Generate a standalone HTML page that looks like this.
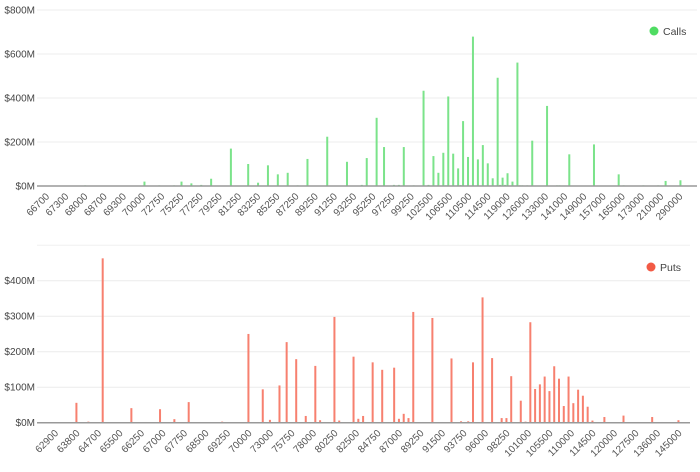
<!DOCTYPE html>
<html><head><meta charset="utf-8"><style>
html,body{margin:0;padding:0;background:#fff;}
svg{display:block;font-family:"Liberation Sans",sans-serif;}
</style></head><body>
<svg id="chart" width="700" height="472" viewBox="0 0 700 472"></svg>
<script>
// ---- Calls data ----
const callLabels = ["66700","67300","68000","68700","69300","70000","72750","75250","77250","79250","81250","83250","85250","87250","89250","91250","93250","95250","97250","99250","102500","106500","110500","114500","119000","126000","133000","141000","149000","157000","165000","173000","210000","290000"];
const callSlots = [19,43,49,55,58,62,66,70,78,85,89,93,97,101,105,109,117,125,131,133,137,140,144,146,148,152,156,158,160,162,164,165,166,168,170,171,172,174,176,178,180,182,184,186,187,188,189,190,192,194,195,196,198,200,206,210,211,215,225,235,237,245,251,254,260];
const callValues = [3,20,3,3,20,12,5,33,170,100,15,94,53,60,3,123,224,110,5,127,310,177,5,5,177,3,433,5,136,60,151,3,407,147,80,4,295,132,679,121,186,103,35,492,5,38,5,58,20,561,3,3,3,206,364,3,3,144,189,53,3,3,3,23,26];
const callTicks = [0,200,400,600,800];
// ---- Puts data ----
const putLabels = ["62900","63800","64700","65500","66250","67000","67750","68500","69250","70000","73000","75750","78000","80250","82500","84750","87000","89250","91500","93750","96000","98250","101000","105500","110000","114500","120000","127500","136000","145000"];
const putSlots = [16,21,27,39,45,51,57,63,77,88,92,94,97,101,104,108,112,116,118,120,124,126,132,134,136,140,144,149,151,153,155,157,161,165,169,173,177,180,182,186,190,194,196,198,202,204,206,208,210,212,214,216,218,220,222,224,226,228,230,232,237,245,251,257,261,268];
const putValues = [56,3,463,41,2,38,10,58,3,250,2,94,8,105,227,179,19,160,7,2,298,6,186,11,19,170,149,155,11,25,13,312,2,295,2,181,4,4,170,353,182,13,13,131,62,3,283,95,108,130,89,159,124,47,130,55,93,76,45,6,16,20,2,16,2,7];
const putTicks = [0,100,200,300,400];

const NS = "http://www.w3.org/2000/svg";
const svg = document.getElementById("chart");
function mk(tag, attrs, parent){const e=document.createElementNS(NS,tag);for(const k in attrs)e.setAttribute(k,attrs[k]);(parent||svg).appendChild(e);return e;}

function drawPanel(cfg){
  const g = mk("g",{});
  
  
  const xs = s => cfg.x0 + (s + 0.5) * cfg.w;
  const ys = v => cfg.base - v * cfg.pxPer;
  cfg.ticks.forEach(t=>{
    const y = ys(t);
    if(t>0){
      const gl = mk("line",{x1:37,x2:cfg.gridEnd,y1:y,y2:y,stroke:"#ececec","stroke-width":1},g);
      
      
    }
    const tx = mk("text",{x:35,y:y+3.5,"text-anchor":"end","font-size":"10",fill:"#444"},g);
    tx.textContent = "$"+t+"M";
    
    
  });
  if(cfg.extraGrid){
    const y = ys(cfg.extraGrid);
    const gl = mk("line",{x1:37,x2:cfg.gridEnd,y1:y,y2:y,stroke:"#f0f0f0","stroke-width":1},g);
    
    
  }
  cfg.slots.forEach((s,i)=>{
    const v = cfg.values[i];
    const h = v*cfg.pxPer;
    const r = mk("rect",{x:xs(s)-1,y:cfg.base-h,width:2,height:h,fill:cfg.color},g);
    
    
  });
  const bl = mk("line",{x1:37,x2:cfg.gridEnd,y1:cfg.base,y2:cfg.base,stroke:"#999","stroke-width":1.5},g);
  
  
  cfg.labels.forEach((l,i)=>{
    const x = xs(cfg.s0 + i*cfg.step) + 4;
    const y = cfg.base + 11;
    const t = mk("text",{x:x,y:y,"text-anchor":"end","font-size":"10",fill:"#555",transform:`rotate(-45 ${x} ${y})`},g);
    t.textContent = l;
    
    
  });
  const lg = mk("g",{},g);
  
  
  mk("circle",{cx:cfg.legX,cy:cfg.legY,r:4.5,fill:cfg.legColor},lg);
  const lt = mk("text",{x:cfg.legX+9,y:cfg.legY+4,"font-size":"10.5",fill:"#444"},lg);
  lt.textContent = cfg.legend;
}

drawPanel({name:"calls-panel",x0:37,w:2.47,s0:3.14,step:7.77,base:186,pxPer:44/200,gridEnd:697,
  ticks:callTicks,slots:callSlots,values:callValues,labels:callLabels,
  color:"#7be38a",legColor:"#4fdc62",legend:"Calls",legX:654,legY:31});
drawPanel({name:"puts-panel",x0:37,w:2.389,s0:7,step:9,base:422.7,pxPer:35.5/100,gridEnd:690,extraGrid:500,
  ticks:putTicks,slots:putSlots,values:putValues,labels:putLabels,
  color:"#f7806f",legColor:"#f25a45",legend:"Puts",legX:651,legY:267});
</script>
</body></html>
